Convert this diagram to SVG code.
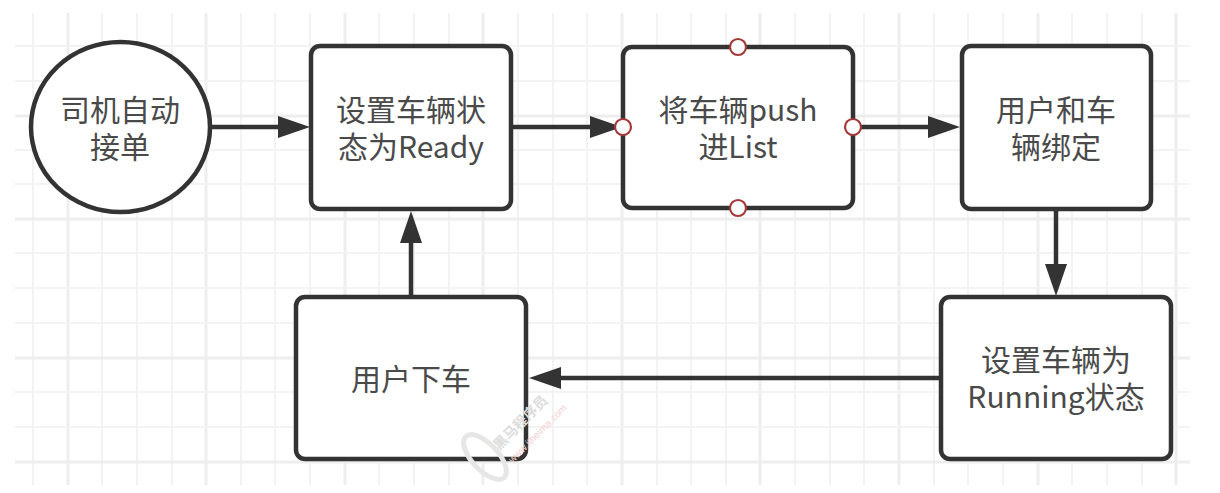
<svg xmlns="http://www.w3.org/2000/svg" width="1220" height="493" viewBox="0 0 1220 493">
<style>
.g{stroke:#f3f3f3;stroke-width:2;fill:none}
.gb{stroke:#eeeeee;stroke-width:3;fill:none}
.n{fill:#fff;stroke:#333;stroke-width:4.5}
.t{font-family:"Noto Sans CJK SC","Open Sans",sans-serif;font-size:30px;fill:#4a4a4a;text-anchor:middle}
.c{stroke:#333;stroke-width:4.5;fill:none}
.h{fill:#333;stroke:none}
.p{fill:#fff;stroke:#a33a3a;stroke-width:2.2}
</style>
<rect width="1220" height="493" fill="#fff"/>
<g id="grid">
<path class="g" d="M33 13V485M102 13V485M137 13V485M172 13V485M241 13V485M275 13V485M310 13V485M379 13V485M414 13V485M449 13V485M518 13V485M553 13V485M587 13V485M657 13V485M691 13V485M726 13V485M795 13V485M830 13V485M864 13V485M934 13V485M968 13V485M1003 13V485M1072 13V485M1107 13V485M1142 13V485"/>
<path class="gb" d="M68 13V485M206 13V485M345 13V485M483 13V485M622 13V485M760 13V485M899 13V485M1038 13V485M1176 13V485"/>
<path class="g" d="M15 46H1190M15 81H1190M15 150H1190M15 184H1190M15 253H1190M15 288H1190M15 323H1190M15 392H1190M15 427H1190"/>
<path class="gb" d="M15 116H1190M15 219H1190M15 358H1190M15 462H1190"/>
</g>
<g id="connectors">
<path class="c" d="M211 127H280"/><path class="h" d="M278 116L310 127L278 138Z"/>
<path class="c" d="M511 127H592"/><path class="h" d="M590 116L622 127L590 138Z"/>
<path class="c" d="M853 127H930"/><path class="h" d="M928 116L960 127L928 138Z"/>
<path class="c" d="M1056 209V266"/><path class="h" d="M1045 264L1056 296L1067 264Z"/>
<path class="c" d="M941 378H560"/><path class="h" d="M561 367L529 378L561 389Z"/>
<path class="c" d="M411 297V242"/><path class="h" d="M400 243L411 211L422 243Z"/>
</g>
<g id="n1"><ellipse class="n" cx="120.500" cy="127" rx="89.500" ry="85"/><text class="t"><tspan x="120" y="121">司机自动</tspan><tspan x="120" y="158">接单</tspan></text></g>
<g id="n2"><rect class="n" x="311" y="46" width="200" height="163" rx="9"/><text class="t"><tspan x="411" y="121">设置车辆状</tspan><tspan x="411" y="158">态为Ready</tspan></text></g>
<g id="n3"><rect class="n" x="623" y="47" width="230" height="161" rx="9"/><text class="t"><tspan x="738" y="121">将车辆push</tspan><tspan x="738" y="158">进List</tspan></text>
<circle class="p" cx="738" cy="47" r="8"/><circle class="p" cx="738" cy="208" r="8"/><circle class="p" cx="623" cy="127" r="8"/><circle class="p" cx="853" cy="127" r="8"/></g>
<g id="n4"><rect class="n" x="962" y="46" width="189" height="163" rx="9"/><text class="t"><tspan x="1056" y="121">用户和车</tspan><tspan x="1056" y="158">辆绑定</tspan></text></g>
<g id="n5"><rect class="n" x="941" y="297" width="230" height="162" rx="9"/><text class="t"><tspan x="1056" y="371">设置车辆为</tspan><tspan x="1056" y="408">Running状态</tspan></text></g>
<g id="n6"><rect class="n" x="296" y="297" width="230" height="162" rx="9"/><text class="t"><tspan x="411" y="390">用户下车</tspan></text></g>
<g id="watermark">
<ellipse cx="485" cy="457" rx="28" ry="13" transform="rotate(47 485 457)" fill="none" stroke="#e6e6e6" stroke-width="5"/>
<text transform="translate(524,426) rotate(-45)" font-family="'Noto Sans CJK SC',sans-serif" font-size="14" font-weight="700" fill="#dcdcdc" text-anchor="middle">黑马程序员</text>
<text transform="translate(540,436) rotate(-45)" font-family="'Liberation Sans',sans-serif" font-size="10" fill="#f5d2d2" text-anchor="middle">www.itheima.com</text>
</g>
</svg>
